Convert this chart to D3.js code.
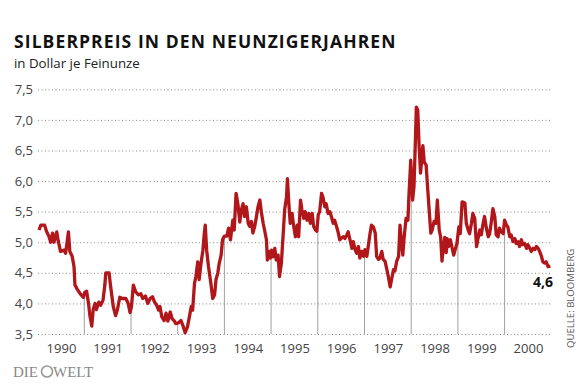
<!DOCTYPE html>
<html>
<head>
<meta charset="utf-8">
<script src="https://cdnjs.cloudflare.com/ajax/libs/d3/7.8.5/d3.min.js"></script>
<style>
  body { margin: 0; background: #fff; }
  svg { display: block; font-family: "Open Sans", sans-serif; }
</style>
</head>
<body>
<svg width="580" height="386"></svg>
<script>
const width = 580;
const height = 386;

// Silberpreis, Dollar je Feinunze (Zeit als Dezimaljahr)
const dates = [
  1990.03, 1990.07, 1990.15, 1990.19, 1990.24, 1990.28, 1990.32, 1990.35, 1990.41, 1990.44,
  1990.49, 1990.57, 1990.60, 1990.64, 1990.66, 1990.69, 1990.74, 1990.78, 1990.80, 1990.85,
  1990.92, 1990.98, 1991.01, 1991.05, 1991.09, 1991.12, 1991.16, 1991.19, 1991.23, 1991.26,
  1991.31, 1991.35, 1991.40, 1991.44, 1991.46, 1991.53, 1991.56, 1991.62, 1991.67, 1991.71,
  1991.76, 1991.81, 1991.89, 1991.94, 1991.98, 1992.01, 1992.05, 1992.10, 1992.16, 1992.21,
  1992.25, 1992.31, 1992.36, 1992.41, 1992.46, 1992.50, 1992.55, 1992.59, 1992.62, 1992.66,
  1992.71, 1992.75, 1992.79, 1992.84, 1992.88, 1992.93, 1992.96, 1993.01, 1993.07, 1993.12,
  1993.16, 1993.21, 1993.25, 1993.29, 1993.32, 1993.36, 1993.39, 1993.43, 1993.46, 1993.50,
  1993.54, 1993.57, 1993.59, 1993.62, 1993.66, 1993.71, 1993.75, 1993.79, 1993.82, 1993.86,
  1993.89, 1993.93, 1993.96, 1994.00, 1994.05, 1994.09, 1994.13, 1994.18, 1994.21, 1994.25,
  1994.29, 1994.33, 1994.36, 1994.40, 1994.43, 1994.47, 1994.51, 1994.54, 1994.58, 1994.61,
  1994.65, 1994.68, 1994.72, 1994.76, 1994.79, 1994.83, 1994.86, 1994.90, 1994.92, 1994.96,
  1994.98, 1995.01, 1995.04, 1995.08, 1995.11, 1995.15, 1995.18, 1995.22, 1995.26, 1995.29,
  1995.33, 1995.35, 1995.38, 1995.41, 1995.45, 1995.48, 1995.52, 1995.56, 1995.59, 1995.63,
  1995.66, 1995.70, 1995.73, 1995.77, 1995.81, 1995.84, 1995.88, 1995.91, 1995.95, 1995.98,
  1996.01, 1996.04, 1996.08, 1996.11, 1996.15, 1996.18, 1996.22, 1996.26, 1996.29, 1996.33,
  1996.36, 1996.40, 1996.43, 1996.47, 1996.51, 1996.55, 1996.58, 1996.62, 1996.65, 1996.69,
  1996.73, 1996.76, 1996.80, 1996.83, 1996.87, 1996.90, 1996.94, 1996.98, 1997.01, 1997.05,
  1997.08, 1997.12, 1997.15, 1997.19, 1997.23, 1997.26, 1997.30, 1997.33, 1997.37, 1997.40,
  1997.44, 1997.48, 1997.51, 1997.55, 1997.58, 1997.62, 1997.65, 1997.69, 1997.73, 1997.76,
  1997.78, 1997.82, 1997.85, 1997.89, 1997.93, 1997.95, 1997.99, 1998.03, 1998.06, 1998.09,
  1998.11, 1998.14, 1998.17, 1998.20, 1998.23, 1998.25, 1998.28, 1998.32, 1998.35, 1998.39,
  1998.42, 1998.45, 1998.49, 1998.53, 1998.56, 1998.60, 1998.63, 1998.66, 1998.69, 1998.72,
  1998.75, 1998.77, 1998.80, 1998.84, 1998.87, 1998.91, 1998.95, 1998.98, 1999.02, 1999.05,
  1999.09, 1999.15, 1999.18, 1999.22, 1999.25, 1999.29, 1999.32, 1999.36, 1999.40, 1999.43,
  1999.47, 1999.50, 1999.54, 1999.57, 1999.61, 1999.65, 1999.68, 1999.72, 1999.75, 1999.79,
  1999.82, 1999.86, 1999.89, 1999.93, 1999.97, 2000.00, 2000.04, 2000.07, 2000.11, 2000.14,
  2000.18, 2000.22, 2000.25, 2000.29, 2000.32, 2000.36, 2000.39, 2000.43, 2000.47, 2000.50,
  2000.54, 2000.57, 2000.61, 2000.65, 2000.68, 2000.72, 2000.75, 2000.79, 2000.82, 2000.86,
  2000.89, 2000.93, 2000.98
];

const prices = [
  5.20, 5.28, 5.28, 5.18, 5.10, 5.00, 5.15, 5.00, 5.17, 5.03,
  4.85, 4.87, 4.82, 5.05, 5.17, 4.85, 4.77, 4.60, 4.30, 4.23,
  4.15, 4.10, 4.18, 4.20, 4.00, 3.80, 3.63, 3.90, 4.00, 3.90,
  4.02, 3.97, 4.05, 4.30, 4.50, 4.50, 4.30, 3.95, 3.80, 3.90,
  4.10, 4.08, 4.08, 4.00, 3.85, 3.95, 4.30, 4.19, 4.14, 4.16,
  4.08, 4.12, 4.00, 4.08, 4.11, 4.03, 3.97, 3.89, 3.95, 3.78,
  3.72, 3.84, 3.71, 3.86, 3.75, 3.71, 3.67, 3.68, 3.72, 3.62,
  3.52, 3.62, 3.78, 3.95, 3.89, 4.33, 4.44, 4.68, 4.39, 4.66,
  4.87, 5.15, 5.28, 4.87, 4.60, 4.33, 4.08, 4.14, 4.39, 4.50,
  4.66, 4.79, 5.04, 5.10, 5.10, 5.23, 5.04, 5.36, 5.20, 5.80,
  5.62, 5.33, 5.52, 5.63, 5.42, 5.58, 5.31, 5.26, 5.34, 5.15,
  5.26, 5.39, 5.58, 5.69, 5.50, 5.31, 5.20, 5.04, 4.71, 4.85,
  4.74, 4.87, 4.76, 4.90, 4.71, 4.79, 4.44, 4.66, 5.15, 5.53,
  5.74, 6.04, 5.63, 5.31, 5.47, 5.28, 5.09, 5.28, 5.09, 5.69,
  5.53, 5.39, 5.50, 5.36, 5.47, 5.31, 5.47, 5.26, 5.20, 5.18,
  5.45, 5.50, 5.80, 5.74, 5.58, 5.63, 5.47, 5.50, 5.42, 5.31,
  5.36, 5.26, 5.18, 5.04, 5.07, 5.09, 5.06, 5.12, 5.17, 5.04,
  4.90, 5.01, 4.88, 4.82, 4.93, 4.74, 4.85, 4.77, 4.88, 4.77,
  4.93, 5.15, 5.28, 5.25, 5.15, 4.77, 4.72, 4.74, 4.85, 4.72,
  4.69, 4.55, 4.44, 4.27, 4.39, 4.55, 4.53, 4.69, 4.77, 5.28,
  5.09, 4.79, 5.09, 5.39, 5.36, 5.74, 6.34, 5.69, 5.91, 6.67,
  7.21, 7.16, 6.56, 6.13, 6.39, 6.58, 6.31, 6.26, 5.91, 5.47,
  5.15, 5.20, 5.34, 5.31, 5.69, 5.20, 5.09, 4.69, 4.93, 5.08,
  4.83, 5.06, 4.93, 5.04, 4.93, 4.79, 4.90, 4.98, 5.25, 5.14,
  5.66, 5.64, 5.31, 5.20, 5.14, 5.31, 5.47, 5.39, 4.93, 5.06,
  5.20, 5.12, 5.31, 5.42, 5.23, 5.09, 5.14, 5.36, 5.55, 5.42,
  5.12, 5.09, 5.23, 5.17, 5.14, 5.36, 5.28, 5.25, 5.09, 5.12,
  5.01, 5.06, 4.98, 5.01, 4.93, 5.04, 4.96, 4.98, 4.90, 4.96,
  4.90, 4.85, 4.90, 4.88, 4.93, 4.90, 4.85, 4.77, 4.68, 4.66,
  4.68, 4.60, 4.61
];

const yTicks = [3.5, 4.0, 4.5, 5.0, 5.5, 6.0, 6.5, 7.0, 7.5];
const years = [1990, 1991, 1992, 1993, 1994, 1995, 1996, 1997, 1998, 1999, 2000];
const lastLabel = '4,6';

const data = dates.map((d, i) => ({ t: d, v: prices[i] }));

const xScale = d3.scaleLinear()
    .domain([1990, 2001])
    .range([37.6, 551.3]);

const yScale = d3.scaleLinear()
    .domain([3.5, 7.5])
    .range([334, 89.3]);

const svg = d3.select('svg');
const comma = d3.format('.1f');

svg.append('rect')
    .attr('width', width)
    .attr('height', height)
    .attr('fill', '#fff');

// gepunktete Gitterlinien
const yAxis = d3.axisLeft(yScale)
    .tickValues(yTicks)
    .tickSize(-514)
    .tickPadding(5)
    .tickFormat(d => comma(d).replace('.', ','));

const gy = svg.append('g')
    .attr('transform', 'translate(38,0)')
    .call(yAxis);
gy.select('.domain').remove();
gy.selectAll('.tick line')
    .attr('stroke', '#8a8a8a')
    .attr('stroke-dasharray', '1,2.5');
gy.selectAll('.tick text')
    .attr('fill', '#444')
    .style('font-size', '13px')
    .style('font-family', '"Open Sans", sans-serif');

// Lotlinien zum Jahreswechsel
const bisect = d3.bisector(d => d.t).left;
const valueAt = t => {
  const i = bisect(data, t);
  const a = data[i - 1], b = data[i];
  return a.v + (b.v - a.v) * (t - a.t) / (b.t - a.t);
};

svg.append('g')
    .selectAll('line')
    .data(years.slice(1))
    .enter()
    .append('line')
    .attr('x1', d => xScale(d))
    .attr('x2', d => xScale(d))
    .attr('y1', yScale(3.5))
    .attr('y2', d => yScale(valueAt(d)))
    .attr('stroke', '#a0a0a0')
    .attr('stroke-width', 1);

// Jahreszahlen
const xAxis = d3.axisBottom(xScale)
    .tickValues(years.map(y => y + 0.5))
    .tickSize(0)
    .tickPadding(0)
    .tickFormat(d => Math.floor(d));

const gx = svg.append('g')
    .attr('transform', 'translate(0,353)')
    .call(xAxis);
gx.select('.domain').remove();
gx.selectAll('.tick text')
    .attr('dy', 0)
    .attr('fill', '#444')
    .style('font-size', '13px')
    .style('font-family', '"Open Sans", sans-serif');

// Kurve
const line = d3.line()
    .x(d => xScale(d.t))
    .y(d => yScale(d.v));

svg.append('path')
    .datum(data)
    .attr('d', line)
    .attr('fill', 'none')
    .attr('stroke', '#b1161a')
    .attr('stroke-width', 3.3)
    .attr('stroke-linejoin', 'round');

svg.append('text')
    .attr('x', 553)
    .attr('y', 287)
    .style('text-anchor', 'end')
    .style('font-size', '14px')
    .style('font-weight', 'bold')
    .attr('fill', '#111')
    .text(lastLabel);

// Titel
svg.append('text')
    .attr('x', 14)
    .attr('y', 48)
    .style('font-size', '17.5px')
    .style('letter-spacing', '1.1px')
    .style('font-weight', 'bold')
    .attr('fill', '#111')
    .text('SILBERPREIS IN DEN NEUNZIGERJAHREN');

svg.append('text')
    .attr('x', 14)
    .attr('y', 68)
    .style('font-size', '13.3px')
    .attr('fill', '#222')
    .text('in Dollar je Feinunze');

svg.append('text')
    .attr('transform', 'translate(574,348) rotate(-90)')
    .style('font-size', '9.6px')
    .attr('fill', '#555')
    .text('QUELLE: BLOOMBERG');

// Logo
const logo = svg.append('g')
    .attr('fill', '#888')
    .style('font-family', '"Liberation Serif", serif')
    .style('font-size', '15px');
logo.append('text').attr('x', 13).attr('y', 377).text('DIE');
logo.append('circle')
    .attr('cx', 47)
    .attr('cy', 371.5)
    .attr('r', 5.5)
    .attr('fill', 'none')
    .attr('stroke', '#999')
    .attr('stroke-width', 1.6);
logo.append('text').attr('x', 53).attr('y', 377).text('WELT');
</script>
</body>
</html>
